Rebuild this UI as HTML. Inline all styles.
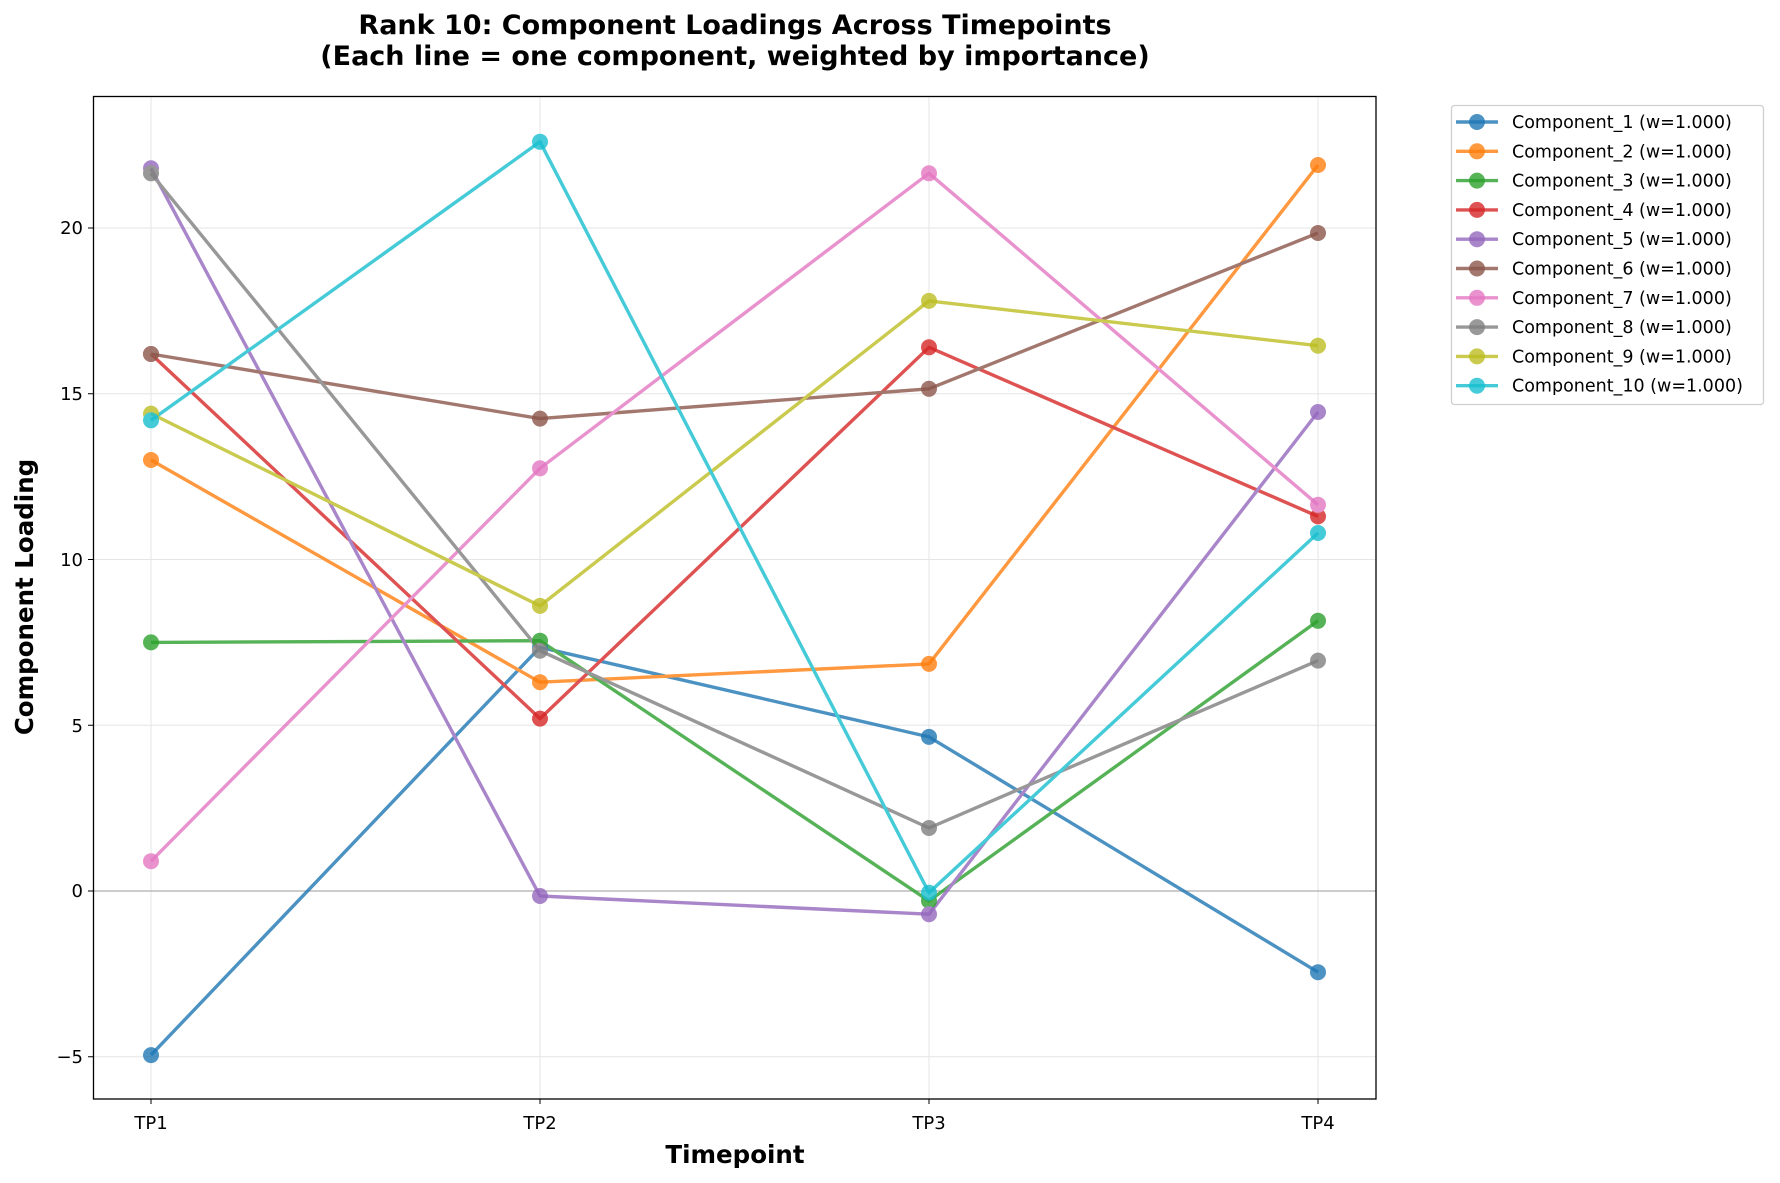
<!DOCTYPE html>
<html><head><meta charset="utf-8"><style>
body{margin:0;background:#fff}
svg{display:block;font-family:"DejaVu Sans","Liberation Sans",sans-serif}
</style></head><body>
<svg width="1780" height="1183" viewBox="0 0 1780 1183" xmlns="http://www.w3.org/2000/svg">
<rect width="1780" height="1183" fill="#fff"/>
<g stroke="#e6e6e6" stroke-width="1">
<line x1="93" x2="1376" y1="1056.75" y2="1056.75"/><line x1="93" x2="1376" y1="725.25" y2="725.25"/>
<line x1="93" x2="1376" y1="559.5" y2="559.5"/><line x1="93" x2="1376" y1="393.75" y2="393.75"/>
<line x1="93" x2="1376" y1="228" y2="228"/>
<line x1="151" x2="151" y1="96" y2="1099"/><line x1="540" x2="540" y1="96" y2="1099"/>
<line x1="929" x2="929" y1="96" y2="1099"/><line x1="1318" x2="1318" y1="96" y2="1099"/>
</g>
<line x1="93" x2="1376" y1="891" y2="891" stroke="#999" stroke-width="1"/>
<g fill="none" stroke-width="3.4" stroke-linejoin="round" opacity="0.8">
<polyline stroke="#1f77b4" points="151,1055.1 540,647.3 929,736.9 1318,972.2"/>
<polyline stroke="#ff7f0e" points="151,460 540,682.2 929,663.9 1318,165"/>
<polyline stroke="#2ca02c" points="151,642.4 540,640.7 929,900.9 1318,620.8"/>
<polyline stroke="#d62728" points="151,354 540,718.6 929,347.3 1318,516.4"/>
<polyline stroke="#9467bd" points="151,168.3 540,896 929,914.2 1318,412"/>
<polyline stroke="#8c564b" points="151,354 540,418.6 929,388.8 1318,233"/>
<polyline stroke="#e377c2" points="151,861.2 540,468.3 929,173.3 1318,504.8"/>
<polyline stroke="#7f7f7f" points="151,173.3 540,650.7 929,828 1318,660.6"/>
<polyline stroke="#bcbd22" points="151,413.6 540,605.9 929,300.9 1318,345.7"/>
<polyline stroke="#17becf" points="151,420.3 540,141.8 929,892.7 1318,533"/>
</g>
<g opacity="0.8">
<g fill="#1f77b4"><circle cx="151" cy="1055.1" r="8"/><circle cx="540" cy="647.3" r="8"/><circle cx="929" cy="736.9" r="8"/><circle cx="1318" cy="972.2" r="8"/></g>
<g fill="#ff7f0e"><circle cx="151" cy="460" r="8"/><circle cx="540" cy="682.2" r="8"/><circle cx="929" cy="663.9" r="8"/><circle cx="1318" cy="165" r="8"/></g>
<g fill="#2ca02c"><circle cx="151" cy="642.4" r="8"/><circle cx="540" cy="640.7" r="8"/><circle cx="929" cy="900.9" r="8"/><circle cx="1318" cy="620.8" r="8"/></g>
<g fill="#d62728"><circle cx="151" cy="354" r="8"/><circle cx="540" cy="718.6" r="8"/><circle cx="929" cy="347.3" r="8"/><circle cx="1318" cy="516.4" r="8"/></g>
<g fill="#9467bd"><circle cx="151" cy="168.3" r="8"/><circle cx="540" cy="896" r="8"/><circle cx="929" cy="914.2" r="8"/><circle cx="1318" cy="412" r="8"/></g>
<g fill="#8c564b"><circle cx="151" cy="354" r="8"/><circle cx="540" cy="418.6" r="8"/><circle cx="929" cy="388.8" r="8"/><circle cx="1318" cy="233" r="8"/></g>
<g fill="#e377c2"><circle cx="151" cy="861.2" r="8"/><circle cx="540" cy="468.3" r="8"/><circle cx="929" cy="173.3" r="8"/><circle cx="1318" cy="504.8" r="8"/></g>
<g fill="#7f7f7f"><circle cx="151" cy="173.3" r="8"/><circle cx="540" cy="650.7" r="8"/><circle cx="929" cy="828" r="8"/><circle cx="1318" cy="660.6" r="8"/></g>
<g fill="#bcbd22"><circle cx="151" cy="413.6" r="8"/><circle cx="540" cy="605.9" r="8"/><circle cx="929" cy="300.9" r="8"/><circle cx="1318" cy="345.7" r="8"/></g>
<g fill="#17becf"><circle cx="151" cy="420.3" r="8"/><circle cx="540" cy="141.8" r="8"/><circle cx="929" cy="892.7" r="8"/><circle cx="1318" cy="533" r="8"/></g>
</g>
<rect x="93.5" y="96.5" width="1282.5" height="1002.5" fill="none" stroke="#000" stroke-width="1.3"/>
<g stroke="#000" stroke-width="1">
<line x1="88" x2="93" y1="1056.75" y2="1056.75"/><line x1="88" x2="93" y1="891" y2="891"/><line x1="88" x2="93" y1="725.25" y2="725.25"/>
<line x1="88" x2="93" y1="559.5" y2="559.5"/><line x1="88" x2="93" y1="393.75" y2="393.75"/><line x1="88" x2="93" y1="228" y2="228"/>
<line x1="151" x2="151" y1="1099" y2="1104"/><line x1="540" x2="540" y1="1099" y2="1104"/><line x1="929" x2="929" y1="1099" y2="1104"/><line x1="1318" x2="1318" y1="1099" y2="1104"/>
</g>
<g font-size="18" fill="#000" text-anchor="end">
<text x="83" y="1063">−5</text><text x="83" y="897">0</text><text x="83" y="732">5</text>
<text x="83" y="566">10</text><text x="83" y="400">15</text><text x="83" y="234">20</text>
</g>
<g font-size="18" fill="#000" text-anchor="middle">
<text x="151" y="1129">TP1</text><text x="540" y="1129">TP2</text><text x="929" y="1129">TP3</text><text x="1318" y="1129">TP4</text>
</g>
<text x="735" y="1163" font-size="24.5" font-weight="bold" text-anchor="middle">Timepoint</text>
<text transform="translate(33,597) rotate(-90)" font-size="24.5" font-weight="bold" text-anchor="middle">Component Loading</text>
<text x="735" y="34" font-size="27" font-weight="bold" text-anchor="middle">Rank 10: Component Loadings Across Timepoints</text>
<text x="735" y="65" font-size="27" font-weight="bold" text-anchor="middle">(Each line = one component, weighted by importance)</text>
<rect x="1451.5" y="105.5" width="312" height="299" rx="3" fill="#fff" stroke="#d0d0d0" stroke-width="1.3"/>
<g font-size="17.5" fill="#000">
<g transform="translate(0,122)"><line x1="1456" x2="1498" stroke="#1f77b4" stroke-width="3.4" opacity=".8"/><circle cx="1477" r="8" fill="#1f77b4" opacity=".8"/><text x="1512" y="6">Component_1 (w=1.000)</text></g>
<g transform="translate(0,151.3)"><line x1="1456" x2="1498" stroke="#ff7f0e" stroke-width="3.4" opacity=".8"/><circle cx="1477" r="8" fill="#ff7f0e" opacity=".8"/><text x="1512" y="6">Component_2 (w=1.000)</text></g>
<g transform="translate(0,180.6)"><line x1="1456" x2="1498" stroke="#2ca02c" stroke-width="3.4" opacity=".8"/><circle cx="1477" r="8" fill="#2ca02c" opacity=".8"/><text x="1512" y="6">Component_3 (w=1.000)</text></g>
<g transform="translate(0,209.9)"><line x1="1456" x2="1498" stroke="#d62728" stroke-width="3.4" opacity=".8"/><circle cx="1477" r="8" fill="#d62728" opacity=".8"/><text x="1512" y="6">Component_4 (w=1.000)</text></g>
<g transform="translate(0,239.2)"><line x1="1456" x2="1498" stroke="#9467bd" stroke-width="3.4" opacity=".8"/><circle cx="1477" r="8" fill="#9467bd" opacity=".8"/><text x="1512" y="6">Component_5 (w=1.000)</text></g>
<g transform="translate(0,268.5)"><line x1="1456" x2="1498" stroke="#8c564b" stroke-width="3.4" opacity=".8"/><circle cx="1477" r="8" fill="#8c564b" opacity=".8"/><text x="1512" y="6">Component_6 (w=1.000)</text></g>
<g transform="translate(0,297.8)"><line x1="1456" x2="1498" stroke="#e377c2" stroke-width="3.4" opacity=".8"/><circle cx="1477" r="8" fill="#e377c2" opacity=".8"/><text x="1512" y="6">Component_7 (w=1.000)</text></g>
<g transform="translate(0,327.1)"><line x1="1456" x2="1498" stroke="#7f7f7f" stroke-width="3.4" opacity=".8"/><circle cx="1477" r="8" fill="#7f7f7f" opacity=".8"/><text x="1512" y="6">Component_8 (w=1.000)</text></g>
<g transform="translate(0,356.4)"><line x1="1456" x2="1498" stroke="#bcbd22" stroke-width="3.4" opacity=".8"/><circle cx="1477" r="8" fill="#bcbd22" opacity=".8"/><text x="1512" y="6">Component_9 (w=1.000)</text></g>
<g transform="translate(0,385.7)"><line x1="1456" x2="1498" stroke="#17becf" stroke-width="3.4" opacity=".8"/><circle cx="1477" r="8" fill="#17becf" opacity=".8"/><text x="1512" y="6">Component_10 (w=1.000)</text></g>
</g>
</svg>
</body></html>
